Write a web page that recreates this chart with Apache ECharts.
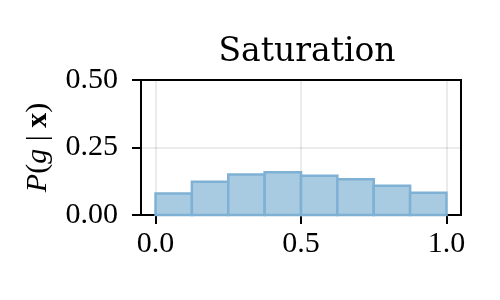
<!DOCTYPE html>
<html><head><meta charset="utf-8">
<script src="https://cdn.jsdelivr.net/npm/echarts@6/dist/echarts.min.js"></script>
<style>html,body{margin:0;padding:0;background:#fff}#c{width:500px;height:300px}</style>
</head><body><div id="c"></div>
<script>
const binEdges = [0, 0.125, 0.25, 0.375, 0.5, 0.625, 0.75, 0.875, 1.0];
const binValues = [0.080, 0.123, 0.150, 0.158, 0.145, 0.132, 0.108, 0.082];
const xTicks = [0, 0.5, 1.0];
const yTicks = [0, 0.25, 0.5];
const titleText = 'Saturation';

const font = '"Liberation Serif", "DejaVu Serif", serif';
const titleFont = '"DejaVu Serif", "Liberation Serif", serif';
const bars = binValues.map((v, i) => [binEdges[i], binEdges[i + 1], v]);

const chart = echarts.init(document.getElementById('c'), null, {renderer: 'canvas'});
chart.setOption({
  animation: false,
  backgroundColor: '#fff',
  title: {
    text: titleText, left: 302, textAlign: 'center', top: 31,
    textStyle: {fontFamily: titleFont, fontSize: 33, fontWeight: 'normal', color: '#000'}
  },
  grid: {left: 141, right: 39, top: 80, bottom: 85, show: true, borderColor: '#000', borderWidth: 2, backgroundColor: 'transparent'},
  xAxis: {
    type: 'value', min: -0.05, max: 1.05,
    axisLine: {show: true, onZero: false, lineStyle: {color: '#000', width: 2}},
    axisTick: {show: true, customValues: xTicks, length: 9, lineStyle: {color: '#000', width: 2}},
    axisLabel: {customValues: xTicks, margin: 14, fontFamily: font, fontSize: 30, color: '#000',
      formatter: v => v.toFixed(1)},
    splitLine: {show: false}
  },
  yAxis: {
    type: 'value', min: 0, max: 0.5, interval: 0.25,
    name: '{i|P}{n|(}{i|g}{n| | }{b|x}{n|)}',
    nameLocation: 'middle', nameRotate: 90, nameGap: 88,
    nameTextStyle: {
      fontFamily: font, fontSize: 30, color: '#000',
      rich: {
        i: {fontFamily: font, fontSize: 30, fontStyle: 'italic', color: '#000'},
        n: {fontFamily: font, fontSize: 30, color: '#000'},
        b: {fontFamily: font, fontSize: 30, fontWeight: 'bold', color: '#000'}
      }
    },
    axisLine: {show: true, onZero: false, lineStyle: {color: '#000', width: 2}},
    axisTick: {show: true, length: 9, lineStyle: {color: '#000', width: 2}},
    axisLabel: {margin: 23, fontFamily: font, fontSize: 30, color: '#000', formatter: v => v.toFixed(2)},
    splitLine: {show: false}
  },
  series: [{
    type: 'custom',
    data: bars,
    renderItem: (params, api) => {
      const p0 = api.coord([api.value(0), api.value(2)]);
      const p1 = api.coord([api.value(1), 0]);
      return {
        type: 'rect',
        shape: {x: p0[0], y: p0[1], width: p1[0] - p0[0], height: p1[1] - p0[1]},
        style: {fill: '#a9cbe1', stroke: '#7fb1d4', lineWidth: 2.5}
      };
    },
    encode: {x: [0, 1], y: 2},
    z: 3,
    markLine: {
      silent: true, symbol: 'none', label: {show: false}, z: 1,
      lineStyle: {color: 'rgba(0,0,0,0.08)', width: 2, type: 'solid'},
      data: xTicks.map(v => ({xAxis: v})).concat(yTicks.map(v => ({yAxis: v})))
    }
  }]
});
</script></body></html>
